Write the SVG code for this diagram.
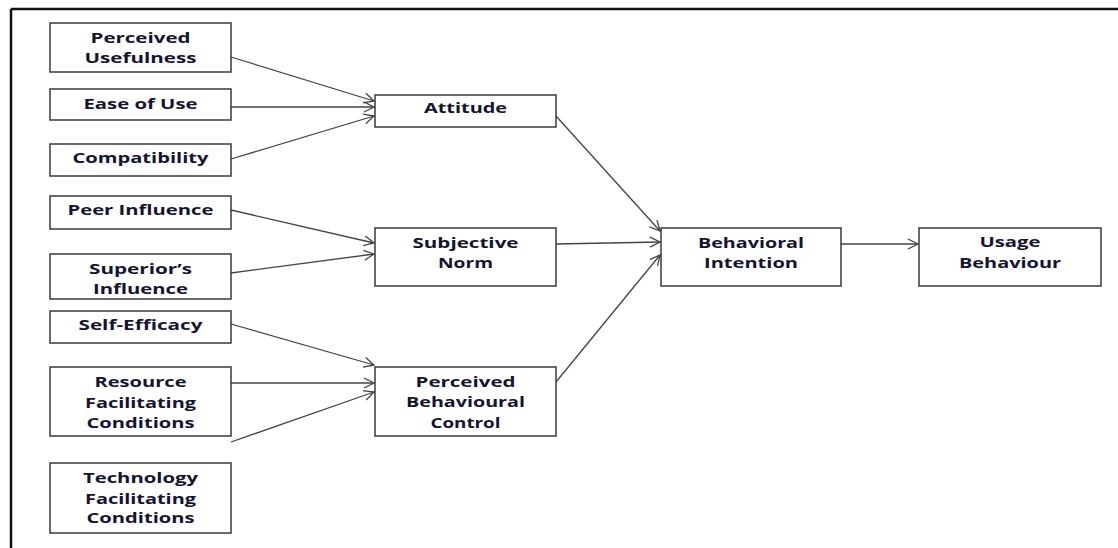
<svg xmlns="http://www.w3.org/2000/svg" width="1118" height="548" viewBox="0 0 1118 548">
<style>
.box{fill:#fff;stroke:#3a3a3a;stroke-width:1.5}
.t{font-family:"Open Sans","Liberation Sans",sans-serif;font-weight:bold;font-size:15px;fill:#141432;text-anchor:middle}
.c{stroke:#444;stroke-width:1.3;fill:none;marker-end:url(#ah)}
</style>
<defs>
<marker id="ah" viewBox="0 0 12 12" refX="11" refY="6" markerWidth="12" markerHeight="12" markerUnits="userSpaceOnUse" orient="auto">
<path d="M1,1 L11,6 L1,11" fill="none" stroke="#444" stroke-width="1.3"/>
</marker>
</defs>
<rect width="1118" height="548" fill="#fff"/>
<g id="frame" stroke="#111" stroke-width="2.5" fill="none">
<line x1="11" y1="9" x2="1118" y2="9"/>
<line x1="11" y1="9" x2="11" y2="548"/>
</g>
<g id="connectors">
<line class="c" x1="231" y1="57" x2="374" y2="101"/>
<line class="c" x1="231" y1="107" x2="374" y2="107"/>
<line class="c" x1="231" y1="159" x2="374" y2="116"/>
<line class="c" x1="231" y1="210" x2="374" y2="243"/>
<line class="c" x1="231" y1="273" x2="374" y2="254"/>
<line class="c" x1="231" y1="324" x2="374" y2="365"/>
<line class="c" x1="231" y1="383" x2="374" y2="383"/>
<line class="c" x1="231" y1="442" x2="374" y2="392"/>
<line class="c" x1="556" y1="116" x2="660" y2="231"/>
<line class="c" x1="556" y1="244" x2="660" y2="242"/>
<line class="c" x1="556" y1="382" x2="660" y2="255"/>
<line class="c" x1="841" y1="244" x2="918" y2="244"/>
</g>
<g id="perceived-usefulness">
<rect class="box" x="50" y="23" width="181" height="49"/>
<text class="t" x="140.5" y="43" textLength="100" lengthAdjust="spacingAndGlyphs">Perceived</text>
<text class="t" x="140.5" y="63" textLength="112" lengthAdjust="spacingAndGlyphs">Usefulness</text>
</g>
<g id="ease-of-use">
<rect class="box" x="50" y="89" width="181" height="31"/>
<text class="t" x="140.5" y="109" textLength="114" lengthAdjust="spacingAndGlyphs">Ease of Use</text>
</g>
<g id="compatibility">
<rect class="box" x="50" y="144" width="181" height="32"/>
<text class="t" x="140.5" y="163" textLength="136" lengthAdjust="spacingAndGlyphs">Compatibility</text>
</g>
<g id="peer-influence">
<rect class="box" x="50" y="196" width="181" height="33"/>
<text class="t" x="140.5" y="215" textLength="146" lengthAdjust="spacingAndGlyphs">Peer Influence</text>
</g>
<g id="superiors-influence">
<rect class="box" x="50" y="254" width="181" height="45"/>
<text class="t" x="140.5" y="274" textLength="103" lengthAdjust="spacingAndGlyphs">Superior’s</text>
<text class="t" x="140.5" y="294" textLength="95" lengthAdjust="spacingAndGlyphs">Influence</text>
</g>
<g id="self-efficacy">
<rect class="box" x="50" y="311" width="181" height="32"/>
<text class="t" x="140.5" y="330" textLength="124" lengthAdjust="spacingAndGlyphs">Self-Efficacy</text>
</g>
<g id="resource-facilitating-conditions">
<rect class="box" x="50" y="367" width="181" height="69"/>
<text class="t" x="140.5" y="387" textLength="92" lengthAdjust="spacingAndGlyphs">Resource</text>
<text class="t" x="140.5" y="408" textLength="111" lengthAdjust="spacingAndGlyphs">Facilitating</text>
<text class="t" x="140.5" y="428" textLength="108" lengthAdjust="spacingAndGlyphs">Conditions</text>
</g>
<g id="technology-facilitating-conditions">
<rect class="box" x="50" y="463" width="181" height="70"/>
<text class="t" x="140.5" y="483" textLength="115" lengthAdjust="spacingAndGlyphs">Technology</text>
<text class="t" x="140.5" y="504" textLength="111" lengthAdjust="spacingAndGlyphs">Facilitating</text>
<text class="t" x="140.5" y="523" textLength="108" lengthAdjust="spacingAndGlyphs">Conditions</text>
</g>
<g id="attitude">
<rect class="box" x="375" y="95" width="181" height="32"/>
<text class="t" x="465.5" y="113" textLength="83" lengthAdjust="spacingAndGlyphs">Attitude</text>
</g>
<g id="subjective-norm">
<rect class="box" x="375" y="228" width="181" height="58"/>
<text class="t" x="465.5" y="248" textLength="106" lengthAdjust="spacingAndGlyphs">Subjective</text>
<text class="t" x="465.5" y="268" textLength="55" lengthAdjust="spacingAndGlyphs">Norm</text>
</g>
<g id="perceived-behavioural-control">
<rect class="box" x="375" y="367" width="181" height="69"/>
<text class="t" x="465.5" y="387" textLength="100" lengthAdjust="spacingAndGlyphs">Perceived</text>
<text class="t" x="465.5" y="407" textLength="119" lengthAdjust="spacingAndGlyphs">Behavioural</text>
<text class="t" x="465.5" y="428" textLength="70" lengthAdjust="spacingAndGlyphs">Control</text>
</g>
<g id="behavioral-intention">
<rect class="box" x="661" y="228" width="180" height="58"/>
<text class="t" x="751" y="248" textLength="106" lengthAdjust="spacingAndGlyphs">Behavioral</text>
<text class="t" x="751" y="268" textLength="94" lengthAdjust="spacingAndGlyphs">Intention</text>
</g>
<g id="usage-behaviour">
<rect class="box" x="919" y="228" width="182" height="58"/>
<text class="t" x="1010" y="247" textLength="61" lengthAdjust="spacingAndGlyphs">Usage</text>
<text class="t" x="1010" y="268" textLength="102" lengthAdjust="spacingAndGlyphs">Behaviour</text>
</g>
</svg>
